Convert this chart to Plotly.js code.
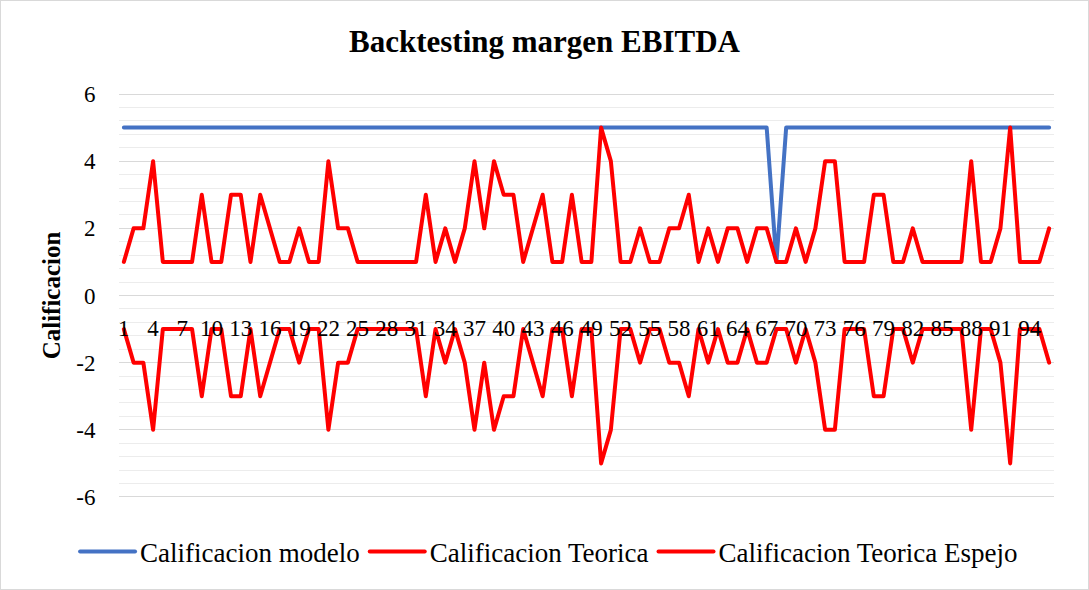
<!DOCTYPE html>
<html>
<head>
<meta charset="utf-8">
<script src="https://cdn.plot.ly/plotly-3.0.1.min.js"></script>
<style>
  html, body { margin: 0; padding: 0; background: #fff; }
  #chart { width: 1087px; height: 588px; border: 1px solid #d9d9d9; }
  .scatterlayer path.js-line { stroke-linejoin: round; stroke-linecap: round; }
  .legend path.js-line { stroke-linecap: round; }
</style>
</head>
<body>
<div id="chart"></div>
<script>
// Category index 1..96
const categories = Array.from({length: 96}, (_, i) => i + 1);

const calificacionModelo = [
  5,5,5,5,5,5,5,5,5,5, 5,5,5,5,5,5,5,5,5,5,
  5,5,5,5,5,5,5,5,5,5, 5,5,5,5,5,5,5,5,5,5,
  5,5,5,5,5,5,5,5,5,5, 5,5,5,5,5,5,5,5,5,5,
  5,5,5,5,5,5,5,1,5,5, 5,5,5,5,5,5,5,5,5,5,
  5,5,5,5,5,5,5,5,5,5, 5,5,5,5,5,5
];

const calificacionTeorica = [
  1,2,2,4,1,1,1,1,3,1, 1,3,3,1,3,2,1,1,2,1,
  1,4,2,2,1,1,1,1,1,1, 1,3,1,2,1,2,4,2,4,3,
  3,1,2,3,1,1,3,1,1,5, 4,1,1,2,1,1,2,2,3,1,
  2,1,2,2,1,2,2,1,1,2, 1,2,4,4,1,1,1,3,3,1,
  1,2,1,1,1,1,1,4,1,1, 2,5,1,1,1,2
];

const calificacionTeoricaEspejo = [
  -1,-2,-2,-4,-1,-1,-1,-1,-3,-1, -1,-3,-3,-1,-3,-2,-1,-1,-2,-1,
  -1,-4,-2,-2,-1,-1,-1,-1,-1,-1, -1,-3,-1,-2,-1,-2,-4,-2,-4,-3,
  -3,-1,-2,-3,-1,-1,-3,-1,-1,-5, -4,-1,-1,-2,-1,-1,-2,-2,-3,-1,
  -2,-1,-2,-2,-1,-2,-2,-1,-1,-2, -1,-2,-4,-4,-1,-1,-1,-3,-3,-1,
  -1,-2,-1,-1,-1,-1,-1,-4,-1,-1, -2,-5,-1,-1,-1,-2
];

const xTickVals = [1,4,7,10,13,16,19,22,25,28,31,34,37,40,43,46,49,52,55,58,61,64,67,70,73,76,79,82,85,88,91,94];
const xTickText = xTickVals.map(String);
const yTickVals = [-6,-4,-2,0,2,4,6];
const yTickText = ["-6","-4","-2","0","2","4","6"];

const FONT = "'Liberation Serif', 'Times New Roman', serif";

const traces = [
  {x: categories, y: calificacionModelo, name: 'Calificacion modelo', type: 'scatter', mode: 'lines',
   line: {color: '#4472C4', width: 4}},
  {x: categories, y: calificacionTeorica, name: 'Calificacion Teorica', type: 'scatter', mode: 'lines',
   line: {color: '#FF0000', width: 4}},
  {x: categories, y: calificacionTeoricaEspejo, name: 'Calificacion Teorica Espejo', type: 'scatter', mode: 'lines',
   line: {color: '#FF0000', width: 4}}
];

const layout = {
  width: 1087, height: 588,
  margin: {l: 118, r: 34, t: 92, b: 91},
  paper_bgcolor: '#fff', plot_bgcolor: '#fff',
  font: {family: FONT, size: 23, color: '#000'},
  title: {text: '<b>Backtesting margen EBITDA</b>', font: {family: FONT, size: 31, color: '#000'},
          x: 0.5, xanchor: 'center', y: 0.932, yanchor: 'middle'},
  xaxis: {
    range: [0.5, 96.5], anchor: 'free', position: 0.5,
    tickmode: 'array', tickvals: xTickVals, ticktext: xTickText,
    showgrid: false, zeroline: false, showline: false,
    ticks: 'outside', ticklen: 12, tickcolor: 'rgba(0,0,0,0)',
    tickfont: {family: FONT, size: 23, color: '#000'}, fixedrange: true
  },
  yaxis: {
    range: [-6.03, 6.03], tickmode: 'array', tickvals: yTickVals, ticktext: yTickText,
    showgrid: true, gridcolor: '#d9d9d9', gridwidth: 1, zeroline: false, showline: false,
    minor: {dtick: 0.4, tick0: 0, showgrid: true, gridcolor: '#ececec', gridwidth: 1},
    ticks: 'outside', ticklen: 18, tickcolor: 'rgba(0,0,0,0)',
    tickfont: {family: FONT, size: 23, color: '#000'},
    title: {text: '<b>Calificacion</b>', font: {family: FONT, size: 25, color: '#000'}, standoff: 8}
  },
  showlegend: true,
  legend: {orientation: 'h', x: -0.047, xanchor: 'left', y: -0.133, yanchor: 'middle',
           itemwidth: 55,
           font: {family: FONT, size: 27, color: '#000'}, bgcolor: 'rgba(0,0,0,0)'}
};

Plotly.newPlot('chart', traces, layout, {displayModeBar: false, staticPlot: true});
</script>
</body>
</html>
